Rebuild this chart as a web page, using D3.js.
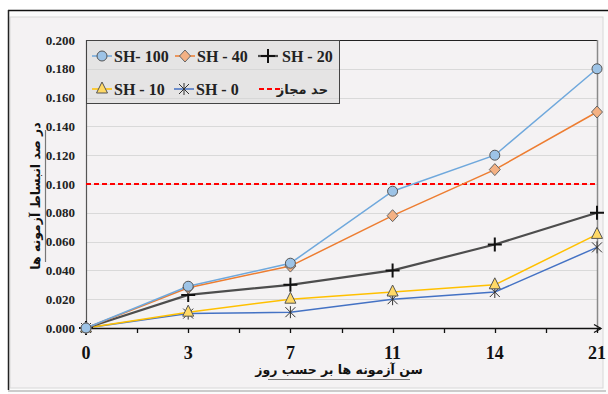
<!DOCTYPE html>
<html><head><meta charset="utf-8">
<script src="https://cdn.jsdelivr.net/npm/d3@7"></script>
<style>html,body{margin:0;padding:0;background:#fff;}svg{display:block;}</style>
</head><body>
<svg id="c" width="608" height="394"></svg>
<script>
const categories = ["0","3","7","11","14","21"];
const sh100 = [0, 0.029, 0.045, 0.095, 0.120, 0.180];
const sh40  = [0, 0.028, 0.043, 0.078, 0.110, 0.150];
const sh20  = [0, 0.023, 0.030, 0.040, 0.058, 0.080];
const sh10  = [0, 0.011, 0.020, 0.025, 0.030, 0.065];
const sh0   = [0, 0.010, 0.011, 0.020, 0.025, 0.056];
const limitValue = 0.100;
const yTicks = [0,0.02,0.04,0.06,0.08,0.1,0.12,0.14,0.16,0.18,0.2];
const seriesNames = ["SH- 100","SH - 40","SH - 20","SH - 10","SH - 0"];
const limitName = "حد مجاز";
const yTitle = "در صد انبساط آزمونه ها";
const xTitle = "سن آزمونه ها بر حسب روز";

const svg = d3.select("#c");
const L=86, R=597, T=40, B=328;
const x = d3.scalePoint().domain(categories).range([L,R]);
const y = d3.scaleLinear().domain([0,0.2]).range([B,T]);

// frame
svg.append("rect").attr("x",8).attr("y",10).attr("width",600).attr("height",384).attr("fill","#fbfbfb");
svg.append("rect").attr("x",10).attr("y",17).attr("width",593).attr("height",371).attr("fill","#f4f2f3").attr("stroke","#d8d8d8");
svg.append("line").attr("x1",8).attr("x2",608).attr("y1",10.5).attr("y2",10.5).attr("stroke","#111").attr("stroke-width",1.5);
svg.append("line").attr("x1",8.5).attr("x2",8.5).attr("y1",10).attr("y2",390).attr("stroke","#222").attr("stroke-width",1.5);
svg.append("line").attr("x1",8).attr("x2",606).attr("y1",391).attr("y2",391).attr("stroke","#bbb").attr("stroke-width",1.5);

// gridlines
svg.append("g").selectAll("line").data(yTicks.slice(1)).join("line")
  .attr("x1",L).attr("x2",R).attr("y1",d=>Math.round(y(d))+0.5).attr("y2",d=>Math.round(y(d))+0.5)
  .attr("stroke","#d9d9d9").attr("stroke-width",1);

// plot borders
svg.append("line").attr("x1",L).attr("x2",R).attr("y1",T+0.5).attr("y2",T+0.5).attr("stroke","#222");
svg.append("line").attr("x1",R+0.5).attr("x2",R+0.5).attr("y1",T).attr("y2",B).attr("stroke","#8a8a8a").attr("stroke-width",1.5);
svg.append("line").attr("x1",L+0.5).attr("x2",L+0.5).attr("y1",T).attr("y2",B).attr("stroke","#555").attr("stroke-width",1.2);

// y labels
svg.append("g").selectAll("text").data(yTicks).join("text")
  .attr("x",75).attr("y",d=>y(d)+4.5).attr("text-anchor","end")
  .attr("font-family","Liberation Serif").attr("font-weight","bold").attr("font-size",13).attr("fill","#222")
  .text(d=>d3.format(".3f")(d));

// x axis
const step = x.step();
const tickPos = [];
categories.forEach((c,i)=>{tickPos.push(x(c)); if(i<categories.length-1) tickPos.push(x(c)+step/2);});
svg.append("line").attr("x1",L).attr("x2",R+4).attr("y1",B+0.5).attr("y2",B+0.5).attr("stroke","#111").attr("stroke-width",1.5);
svg.append("path").attr("d",`M${R-3},${B-3.5} L${R+4},${B+0.5} L${R-3},${B+4.5}`).attr("fill","none").attr("stroke","#111").attr("stroke-width",1.3);
svg.append("g").selectAll("line").data(tickPos.slice(1)).join("line")
  .attr("x1",d=>Math.round(d)+0.5).attr("x2",d=>Math.round(d)+0.5).attr("y1",B).attr("y2",B+5)
  .attr("stroke","#111").attr("stroke-width",1.3);
svg.append("g").selectAll("text").data(categories).join("text")
  .attr("x",d=>x(d)).attr("y",359).attr("text-anchor","middle")
  .attr("font-family","Liberation Serif").attr("font-weight","bold").attr("font-size",18).attr("fill","#111")
  .text(d=>d);

// titles
svg.append("text").attr("x",339).attr("y",374).attr("text-anchor","middle")
  .attr("font-family","DejaVu Sans").attr("font-weight","bold").attr("font-size",12.5).attr("fill","#111")
  .text(xTitle);
svg.append("line").attr("x1",268).attr("x2",410).attr("y1",379.5).attr("y2",379.5).attr("stroke","#777").attr("stroke-width",1.2);
svg.append("text").attr("transform","translate(40,196) rotate(-90)").attr("text-anchor","middle")
  .attr("font-family","DejaVu Sans").attr("font-weight","bold").attr("font-size",12.5).attr("fill","#111")
  .text(yTitle);
svg.append("line").attr("x1",45.5).attr("x2",45.5).attr("y1",130).attr("y2",262).attr("stroke","#777").attr("stroke-width",1.2);

// limit line
svg.append("line").attr("x1",L).attr("x2",R).attr("y1",y(limitValue)).attr("y2",y(limitValue))
  .attr("stroke","#ff0000").attr("stroke-width",2).attr("stroke-dasharray","5,3");

// series
const series = [
  {name:seriesNames[4], vals:sh0,  color:"#4472c4", w:1.5, marker:"star"},
  {name:seriesNames[3], vals:sh10, color:"#ffc000", w:1.5, marker:"tri"},
  {name:seriesNames[2], vals:sh20, color:"#4d4d4d", w:2.2, marker:"plus"},
  {name:seriesNames[1], vals:sh40, color:"#ed7d31", w:1.5, marker:"dia"},
  {name:seriesNames[0], vals:sh100,color:"#6fa8dc", w:1.5, marker:"circ"}
];
const line = d3.line().x((d,i)=>x(categories[i])).y(d=>y(d));

function drawMarker(g, type, cx, cy){
  if(type==="circ"){
    g.append("circle").attr("cx",cx).attr("cy",cy).attr("r",5).attr("fill","#9dc3e6").attr("stroke","#555").attr("stroke-width",1);
  } else if(type==="dia"){
    g.append("path").attr("d",`M${cx},${cy-6} L${cx+5.5},${cy} L${cx},${cy+6} L${cx-5.5},${cy} Z`).attr("fill","#f4b183").attr("stroke","#666").attr("stroke-width",1);
  } else if(type==="plus"){
    g.append("path").attr("d",`M${cx-7},${cy} L${cx+7},${cy} M${cx},${cy-7} L${cx},${cy+7}`).attr("stroke","#111").attr("stroke-width",2);
  } else if(type==="tri"){
    g.append("path").attr("d",`M${cx},${cy-7} L${cx+5.5},${cy+4} L${cx-5.5},${cy+4} Z`).attr("fill","#ffd966").attr("stroke","#555").attr("stroke-width",1);
  } else if(type==="star"){
    g.append("path").attr("d",`M${cx-5},${cy-5} L${cx+5},${cy+5} M${cx+5},${cy-5} L${cx-5},${cy+5} M${cx},${cy-6} L${cx},${cy+6}`).attr("stroke","#333").attr("stroke-width",1);
  }
}
series.forEach(s=>{
  svg.append("path").datum(s.vals).attr("d",line).attr("fill","none").attr("stroke",s.color).attr("stroke-width",s.w);
});
series.forEach(s=>{
  const g = svg.append("g");
  s.vals.forEach((v,i)=>drawMarker(g,s.marker,x(categories[i]),y(v)));
});

// legend
const lg = svg.append("g");
lg.append("rect").attr("x",86.5).attr("y",40.5).attr("width",253).attr("height",63)
  .attr("fill","#d6d6d6").attr("fill-opacity",0.5).attr("stroke","#444").attr("stroke-width",1);
const legendItems = [
  {s:series[4], lx:92, row:0},
  {s:series[3], lx:175, row:0},
  {s:series[2], lx:258, row:0},
  {s:series[1], lx:92, row:1},
  {s:series[0], lx:174, row:1}
];
legendItems.forEach(it=>{
  const cy = it.row===0 ? 56 : 89;
  lg.append("line").attr("x1",it.lx).attr("x2",it.lx+20).attr("y1",cy).attr("y2",cy).attr("stroke",it.s.color).attr("stroke-width",it.s.w);
  drawMarker(lg,it.s.marker,it.lx+10,cy);
  lg.append("text").attr("x",it.lx+(it.s.marker==="plus"?24:22)).attr("y",cy+5.5)
    .attr("font-family","Liberation Serif").attr("font-weight","bold").attr("font-size",16).attr("fill","#222")
    .text(it.s.name);
});
lg.append("line").attr("x1",259).attr("x2",280).attr("y1",89).attr("y2",89).attr("stroke","#ff0000").attr("stroke-width",2).attr("stroke-dasharray","5,3");
lg.append("text").attr("x",328).attr("y",94).attr("text-anchor","end")
  .attr("font-family","DejaVu Sans").attr("font-weight","bold").attr("font-size",13).attr("fill","#222")
  .text(limitName);
</script>
</body></html>
